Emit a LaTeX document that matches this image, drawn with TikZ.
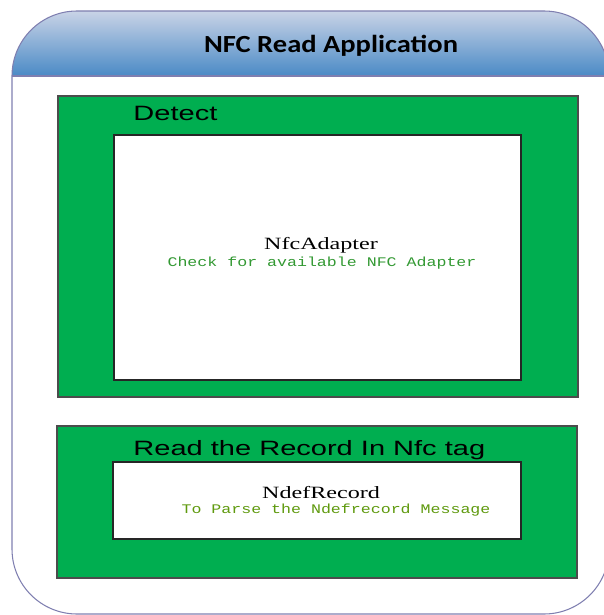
\documentclass[tikz,border=0pt]{standalone}
\usepackage{fontspec}
\setmainfont{Liberation Serif}
\setsansfont{Liberation Sans}
\setmonofont{Liberation Mono}
\newfontfamily\headfont{Carlito}

\def\mypx{0.02cm}
\def\mystretch{1.4}
\definecolor{headtop}{HTML}{C9D3E6}
\definecolor{headbottom}{HTML}{4A8AC6}
\definecolor{frameline}{HTML}{7F7FB0}
\definecolor{boxgreen}{HTML}{00AE50}
\definecolor{codegreen}{HTML}{339933}
\definecolor{codeolive}{HTML}{5F9A0E}

\begin{document}
\begin{tikzpicture}[x=\mypx, y=-\mypx,
    greenbox/.style = {fill=boxgreen, draw=black!70, line width=0.6pt},
    whitebox/.style = {fill=white, draw=black!85, line width=0.8pt},
    stretched/.style = {xscale=\mystretch, transform shape, inner sep=0pt},
    boxtitle/.style = {stretched, anchor=base west, font=\sffamily\fontsize{11.8}{14}\selectfont},
    classname/.style = {stretched, anchor=base, font=\fontsize{9.8}{12}\selectfont},
    classnote/.style = {stretched, xscale=0.9, anchor=base, font=\ttfamily\fontsize{7.5}{9}\selectfont}]
\useasboundingbox (0,0) rectangle (604,615);

% application frame with its header band
\begin{scope}
    \clip [rounded corners=1.3cm] (12,11) rectangle (609,614);
    \shade [top color=headtop, bottom color=headbottom] (0,11) rectangle (620,76);
\end{scope}
\draw [frameline, line width=0.6pt, rounded corners=1.3cm] (12,11) rectangle (609,614);
\draw [frameline, line width=0.6pt] (12,76) -- (609,76);
\node (title) [anchor=base, xscale=1.16, transform shape, inner sep=0pt]
    at (331,53) {\headfont\bfseries\fontsize{14}{17}\selectfont NFC Read Application};

% detect step
\draw [greenbox] (58,96) rectangle (578,397);
\draw [whitebox] (114,135) rectangle (521,380);
\node (detect) [boxtitle] at (133,120) {Detect};
\node (adapter) [classname] at (321,249) {NfcAdapter};
\node (adapternote) [classnote, text=codegreen] at (322,266) {Check for available NFC Adapter};

% read step
\draw [greenbox] (57,426) rectangle (577,578);
\draw [whitebox] (113,462) rectangle (521,539);
\node (read) [boxtitle] at (133,455) {Read the Record In Nfc tag};
\node (record) [classname] at (321,498) {NdefRecord};
\node (recordnote) [classnote, text=codeolive] at (336,513) {To Parse the Ndefrecord Message};
\end{tikzpicture}
\end{document}
